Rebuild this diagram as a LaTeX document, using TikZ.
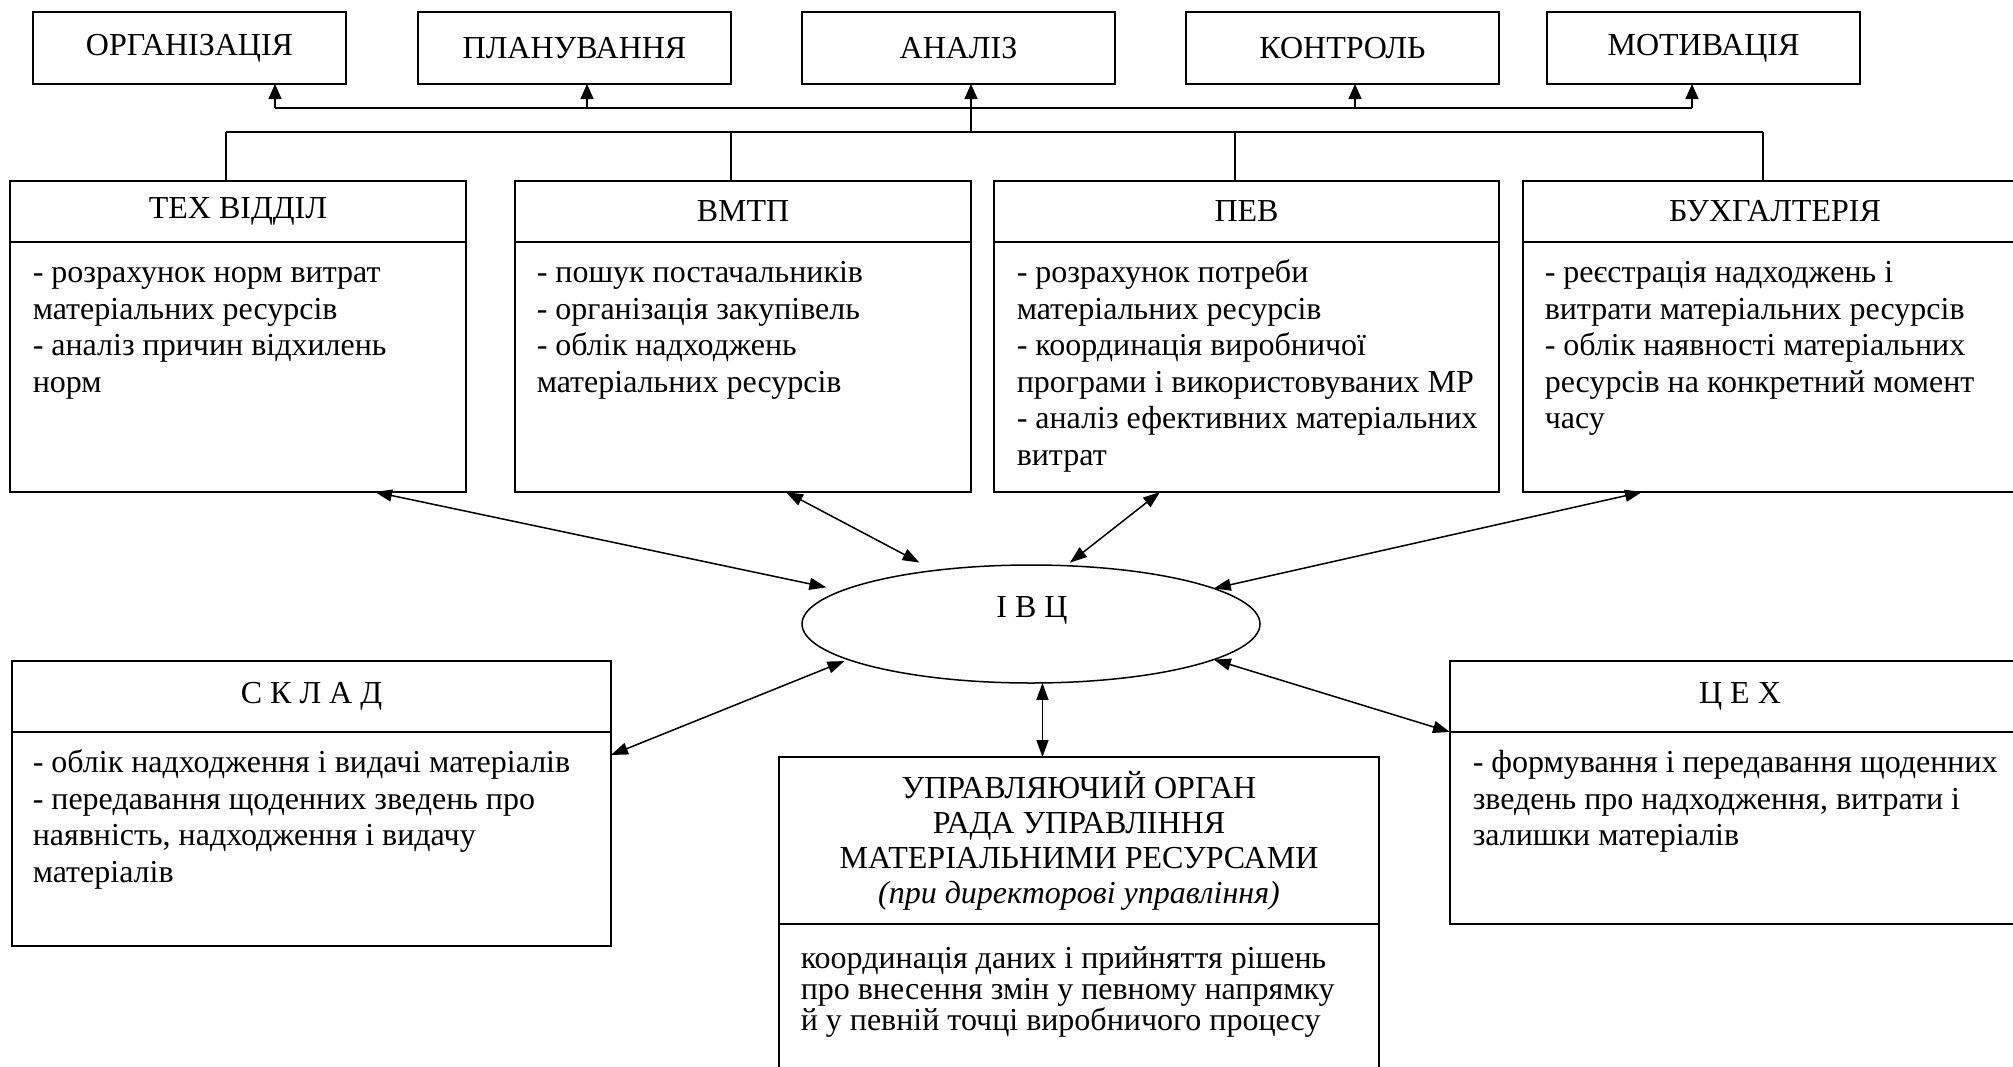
\documentclass[tikz,border=0pt]{standalone}
\usepackage{fontspec}
\setmainfont{Liberation Serif}
\usetikzlibrary{arrows.meta,shapes.geometric,calc}
\begin{document}
\begin{tikzpicture}[x=1pt,y=-1pt, line width=1.5pt,
  box/.style={draw, rectangle, inner sep=0pt, outer sep=0pt, anchor=north west},
  ttl/.style={font=\fontsize{32pt}{36.5pt}\selectfont},
  txt/.style={inner sep=0pt, anchor=north west, align=left, font=\fontsize{32pt}{36.5pt}\selectfont},
  arr/.style={-{Triangle[length=15pt,width=13pt]}},
  darr/.style={{Triangle[length=17pt,width=12pt]}-{Triangle[length=17pt,width=12pt]}}]
\useasboundingbox (0,0) rectangle (2013,1066);
\clip (0,0) rectangle (2013,1066);

% top row
\node[box, ttl, minimum width=313pt, minimum height=72pt] (org) at (33,12) {ОРГАНІЗАЦІЯ};
\node[box, ttl, minimum width=313pt, minimum height=72pt] (plan) at (418,12) {ПЛАНУВАННЯ};
\node[box, ttl, minimum width=313pt, minimum height=72pt] (anal) at (802,12) {АНАЛІЗ};
\node[box, ttl, minimum width=313pt, minimum height=72pt] (kont) at (1186,12) {КОНТРОЛЬ};
\node[box, ttl, minimum width=313pt, minimum height=72pt] (motiv) at (1547,12) {МОТИВАЦІЯ};

% middle row
\node[box, ttl, minimum width=456pt, minimum height=61pt] (texh) at (10,181) {ТЕХ ВІДДІЛ};
\node[box, minimum width=456pt, minimum height=250pt] (tex) at (texh.south west) {};
\node[txt] (text) at ([xshift=22pt,yshift=-14.5pt]tex.north west) {\strut- розрахунок норм витрат\\матеріальних ресурсів\\- аналіз причин відхилень\\норм};

\node[box, ttl, minimum width=456pt, minimum height=61pt] (vmtph) at (515,181) {ВМТП};
\node[box, minimum width=456pt, minimum height=250pt] (vmtp) at (vmtph.south west) {};
\node[txt] (vmtpt) at ([xshift=21pt,yshift=-14.5pt]vmtp.north west) {\strut- пошук постачальників\\- організація закупівель\\- облік надходжень\\матеріальних ресурсів};

\node[box, ttl, minimum width=505pt, minimum height=61pt] (pevh) at (994,181) {ПЕВ};
\node[box, minimum width=505pt, minimum height=250pt] (pev) at (pevh.south west) {};
\node[txt] (pevt) at ([xshift=22pt,yshift=-14.5pt]pev.north west) {\strut- розрахунок потреби\\матеріальних ресурсів\\- координація виробничої\\програми і використовуваних МР\\- аналіз ефективних матеріальних\\витрат};

\node[box, ttl, minimum width=520pt, minimum height=61pt] (buhh) at (1523,181) {\hspace*{-16pt}БУХГАЛТЕРІЯ};
\node[box, minimum width=520pt, minimum height=250pt] (buh) at (buhh.south west) {};
\node[txt] (buht) at ([xshift=21pt,yshift=-14.5pt]buh.north west) {\strut- реєстрація надходжень і\\витрати матеріальних ресурсів\\- облік наявності матеріальних\\ресурсів на конкретний момент\\часу};

% buses
\coordinate (a1) at (275,108);
\coordinate (a2) at (587,108);
\coordinate (a4) at (1355,108);
\coordinate (a5) at (1692,108);
\coordinate (a3) at (971,132);
\coordinate (c1) at (226,132);
\coordinate (c2) at (731,132);
\coordinate (c3) at (1235,132);
\coordinate (c4) at (1763,132);
\draw (a1) -- (a5);
\draw[arr] (a1) -- (a1 |- org.south);
\draw[arr] (a2) -- (a2 |- plan.south);
\draw[arr] (a3) -- (a3 |- anal.south);
\draw[arr] (a4) -- (a4 |- kont.south);
\draw[arr] (a5) -- (a5 |- motiv.south);
\draw (c1) -- (c4);
\draw (c1) -- (c1 |- texh.north);
\draw (c2) -- (c2 |- vmtph.north);
\draw (c3) -- (c3 |- pevh.north);
\draw (c4) -- (c4 |- buhh.north);

% centre
\node[draw, ellipse, minimum width=458pt, minimum height=118pt, inner sep=0pt, outer sep=0pt] (ivc) at (1031,624) {};
\node[ttl] (ivct) at (1032,610) {І В Ц};

% lower row
\node[box, ttl, minimum width=599pt, minimum height=71pt] (sklh) at (12,661) {С К Л А Д};
\node[box, minimum width=599pt, minimum height=214pt] (skl) at (sklh.south west) {};
\node[txt] (sklt) at ([xshift=20pt,yshift=-14.5pt]skl.north west) {\strut- облік надходження і видачі матеріалів\\- передавання щоденних зведень про\\наявність, надходження і видачу\\матеріалів};

\node[box, ttl, minimum width=600pt, minimum height=71pt] (cexh) at (1450,661) {\hspace*{-20pt}Ц Е Х};
\node[box, minimum width=600pt, minimum height=192pt] (cex) at (cexh.south west) {};
\node[txt] (cext) at ([xshift=22pt,yshift=-14.5pt]cex.north west) {\strut- формування і передавання щоденних\\зведень про надходження, витрати і\\залишки матеріалів};

\node[box, align=center, font=\fontsize{32pt}{35pt}\selectfont, minimum width=600pt, minimum height=167pt] (uprh) at (779,757) {УПРАВЛЯЮЧИЙ ОРГАН\\РАДА УПРАВЛІННЯ\\МАТЕРІАЛЬНИМИ РЕСУРСАМИ\\\textit{(при директорові управління)}};
\node[box, minimum width=600pt, minimum height=200pt] (upr) at (uprh.south west) {};
\node[txt, font=\fontsize{32pt}{31pt}\selectfont] (uprt) at ([xshift=21pt,yshift=-22pt]upr.north west) {\strut координація даних і прийняття рішень\\про внесення змін у певному напрямку\\й у певній точці виробничого процесу};

% connectors to ІВЦ
\draw[darr, shorten >=16pt] ([xshift=365pt]tex.south west) -- (ivc.170.2);
\draw[darr, shorten >=17pt] ([xshift=271pt]vmtp.south west) -- (ivc.151.8);
\draw[darr, shorten >=5pt] ([xshift=166pt]pev.south west) -- (ivc.59.6);
\draw[darr] ([xshift=119pt]buh.south west) -- (ivc.11.1);
\draw[darr, shorten >=4pt] ([yshift=-23pt]skl.north east) -- (ivc.191.5);
\draw[darr] (ivc.281.5) -- (ivc.281.5 |- uprh.north);
\draw[darr] (ivc.349.2) -- (cex.north west);
\end{tikzpicture}
\end{document}
